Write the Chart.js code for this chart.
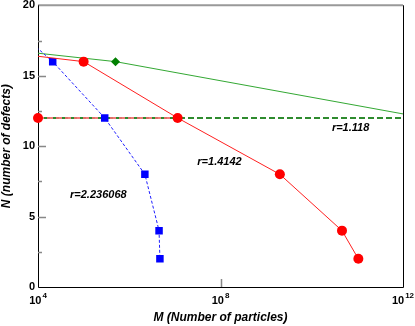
<!DOCTYPE html>
<html>
<head>
<meta charset="utf-8">
<script src="https://cdn.jsdelivr.net/npm/chart.js@4.4.1/dist/chart.umd.min.js"></script>
<style>
  html, body { margin: 0; padding: 0; background: #fff; }
</style>
</head>
<body>
<canvas id="myChart" width="415" height="326"></canvas>
<script>
// r = 1.4142 (red circles, solid line); first point lies left of the axis
const redM = [3.2e3, 1.0e5, 1.15e7, 2.0e9, 4.6e10, 1.05e11];
const redN = [16.57, 16, 12, 8, 4, 2];

// r = 2.236068 (blue squares, dashed line)
const blueM = [6.3e3, 2.1e4, 2.9e5, 2.2e6, 4.5e6, 4.7e6];
const blueN = [17.5, 16, 12, 8, 4, 2];

// green solid line through the diamond
const greenM = [1.0e3, 5.0e5, 1.0e13];
const greenN = [16.95, 16, 11.7];

// dashed level lines at N = 12
const levelRedM = [1.0e4, 1.15e7];
const levelRedN = [12, 12];
const levelGreenM = [1.0e4, 1.0e12];
const levelGreenN = [12, 12];

const xTickExps = [4, 8, 12];
const yTicks = [0, 5, 10, 15, 20];
const yMinorTicks = [2.5, 7.5, 12.5, 17.5];

const notes = [
  { text: 'r=2.236068', m: 2.1e5, n: 6.5 },
  { text: 'r=1.4142', m: 9.5e7, n: 8.9 },
  { text: 'r=1.118', m: 7.1e10, n: 11.3 }
];

const FONT = '"Liberation Sans", Arial, Helvetica, sans-serif';

function pts(xs, ys) {
  return xs.map((x, i) => ({ x: x, y: ys[i] }));
}

const axesPlugin = {
  id: 'axesPlugin',
  beforeDatasetsDraw(chart) {
    const ctx = chart.ctx;
    const a = chart.chartArea;
    const xs = chart.scales.x, ys = chart.scales.y;
    ctx.save();
    // top border (grey)
    ctx.strokeStyle = '#999';
    ctx.lineWidth = 2;
    ctx.beginPath();
    ctx.moveTo(a.left, a.top);
    ctx.lineTo(a.right, a.top);
    ctx.stroke();
    // left, bottom, right
    ctx.strokeStyle = '#000';
    ctx.lineWidth = 1;
    ctx.beginPath();
    ctx.moveTo(a.left + 0.5, a.top);
    ctx.lineTo(a.left + 0.5, a.bottom + 0.5);
    ctx.lineTo(a.right + 0.5, a.bottom + 0.5);
    ctx.lineTo(a.right + 0.5, a.top);
    ctx.stroke();
    // ticks pointing inward
    ctx.strokeStyle = '#888';
    ctx.lineWidth = 1.5;
    ctx.beginPath();
    yTicks.forEach(v => {
      if (v === 0 || v === 20) return;
      const py = Math.round(ys.getPixelForValue(v)) + 0.5;
      ctx.moveTo(a.left, py);
      ctx.lineTo(a.left + 8, py);
    });
    yMinorTicks.forEach(v => {
      const py = Math.round(ys.getPixelForValue(v)) + 0.5;
      ctx.moveTo(a.left, py);
      ctx.lineTo(a.left + 4, py);
    });
    xTickExps.forEach(e => {
      if (e === 4 || e === 12) return;
      const px = Math.round(xs.getPixelForValue(Math.pow(10, e))) + 0.5;
      ctx.moveTo(px, a.bottom);
      ctx.lineTo(px, a.bottom - 8);
    });
    ctx.stroke();
    ctx.restore();
  },
  afterDraw(chart) {
    const ctx = chart.ctx;
    const a = chart.chartArea;
    const xs = chart.scales.x, ys = chart.scales.y;
    ctx.save();
    ctx.fillStyle = '#000';
    // y tick labels
    ctx.font = 'bold 11px ' + FONT;
    ctx.textAlign = 'right';
    ctx.textBaseline = 'middle';
    yTicks.forEach(v => {
      ctx.fillText(String(v), a.left - 3, ys.getPixelForValue(v));
    });
    // x tick labels 10^e
    ctx.textBaseline = 'alphabetic';
    ctx.textAlign = 'left';
    xTickExps.forEach(e => {
      const px = xs.getPixelForValue(Math.pow(10, e));
      ctx.font = 'bold 11px ' + FONT;
      const wBase = ctx.measureText('10').width;
      ctx.font = 'bold 8px ' + FONT;
      const wExp = ctx.measureText(String(e)).width;
      const x0 = px - (wBase + 1 + wExp) / 2;
      ctx.font = 'bold 11px ' + FONT;
      ctx.fillText('10', x0, a.bottom + 17);
      ctx.font = 'bold 8px ' + FONT;
      ctx.fillText(String(e), x0 + wBase + 1, a.bottom + 11);
    });
    // axis titles
    ctx.font = 'bold italic 12px ' + FONT;
    ctx.textAlign = 'center';
    ctx.textBaseline = 'middle';
    ctx.fillText('M (Number of particles)', (a.left + a.right) / 2, 318);
    ctx.save();
    ctx.translate(7, (a.top + a.bottom) / 2);
    ctx.rotate(-Math.PI / 2);
    ctx.fillText('N (number of defects)', 0, 0);
    ctx.restore();
    // series notes
    ctx.font = 'bold italic 11px ' + FONT;
    notes.forEach(n => {
      ctx.fillText(n.text, xs.getPixelForValue(n.m), ys.getPixelForValue(n.n));
    });
    ctx.restore();
  }
};

const myChartRef = document.getElementById('myChart').getContext('2d');

new Chart(myChartRef, {
  type: 'line',
  data: {
    datasets: [
      {
        label: 'r=1.4142',
        data: pts(redM, redN),
        borderColor: '#ff2020',
        borderWidth: 1,
        backgroundColor: '#ff0000',
        pointBackgroundColor: '#ff0000',
        pointBorderColor: '#ff0000',
        pointBorderWidth: 0,
        pointRadius: redM.map((m, i) => i === 0 ? 0 : 5),
        pointStyle: 'circle',
        fill: false
      },
      {
        label: 'r=2.236068',
        data: pts(blueM, blueN),
        borderColor: '#2020ff',
        borderWidth: 1,
        borderDash: [3, 2],
        pointBackgroundColor: '#0000ff',
        pointBorderColor: '#0000ff',
        pointBorderWidth: 0,
        pointRadius: blueM.map((m, i) => i === 0 ? 0 : 5.3),
        pointStyle: 'rect',
        fill: false
      },
      {
        label: 'green',
        data: pts(greenM, greenN),
        borderColor: '#33a833',
        borderWidth: 1,
        pointBackgroundColor: '#008000',
        pointBorderColor: '#008000',
        pointBorderWidth: 0,
        pointRadius: greenM.map((m, i) => i === 1 ? 4.5 : 0),
        pointStyle: 'rectRot',
        fill: false
      },
      {
        label: 'level red',
        data: pts(levelRedM, levelRedN),
        borderColor: 'rgba(240,110,110,0.9)',
        borderWidth: 2,
        borderDash: [6, 3],
        pointBackgroundColor: '#ff0000',
        pointBorderColor: '#ff0000',
        pointBorderWidth: 0,
        pointRadius: [5, 0],
        clip: false,
        fill: false
      },
      {
        label: 'r=1.118',
        data: pts(levelGreenM, levelGreenN),
        borderColor: '#2e8b2e',
        borderWidth: 2,
        borderDash: [6, 3],
        borderDashOffset: 3,
        pointRadius: 0,
        fill: false
      }
    ]
  },
  options: {
    responsive: false,
    animation: false,
    devicePixelRatio: 1,
    layout: { padding: { left: 38, right: 12, top: 5, bottom: 39 } },
    plugins: {
      legend: { display: false },
      tooltip: { enabled: false }
    },
    elements: { line: { tension: 0 } },
    scales: {
      x: { type: 'logarithmic', min: 1e4, max: 1e12, display: false },
      y: { type: 'linear', min: 0, max: 20, display: false }
    }
  },
  plugins: [axesPlugin]
});
</script>
</body>
</html>
